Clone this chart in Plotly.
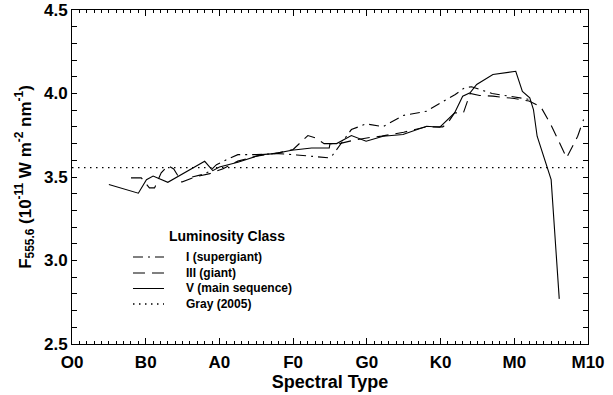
import plotly.graph_objects as go

# Spectral type axis: O0 = 0, B0 = 10, ... M0 = 60, M10 = 70 (one unit per subtype)
spectral_tick_vals = [0, 10, 20, 30, 40, 50, 60, 70]
spectral_tick_text = ["O0", "B0", "A0", "F0", "G0", "K0", "M0", "M10"]

# Luminosity class I (supergiants)
sg_type = [16.3, 17.7, 18.7, 19.6, 21.5, 22.5, 25.0, 28.0, 30.5, 33.0, 34.8,
           35.3, 37.9, 39.9, 42.2, 44.9, 48.1, 50.0, 52.0, 53.3, 54.2, 57.0,
           60.0, 62.0]
sg_flux = [3.500, 3.515, 3.534, 3.574, 3.615, 3.634, 3.634, 3.640, 3.632,
           3.624, 3.615, 3.628, 3.784, 3.818, 3.802, 3.868, 3.894, 3.944,
           3.994, 4.036, 4.040, 4.000, 3.980, 3.965]

# Luminosity class III (giants)
giant_type = [8.0, 9.4, 10.5, 11.2, 12.1, 13.0, 13.8, 14.9, 16.4, 17.1, 18.7,
              20.5, 22.5, 25.0, 28.0, 30.0, 32.0, 33.0, 34.2, 36.3, 38.0,
              40.0, 42.0, 45.0, 48.0, 50.3, 51.0, 51.9, 53.1, 54.0, 55.3,
              57.1, 60.0, 62.0, 63.6, 65.0, 67.1, 68.6, 69.4]
giant_flux = [3.495, 3.495, 3.435, 3.435, 3.525, 3.568, 3.548, 3.470, 3.495,
              3.505, 3.520, 3.550, 3.595, 3.625, 3.645, 3.665, 3.748, 3.734,
              3.700, 3.700, 3.718, 3.734, 3.745, 3.768, 3.800, 3.800, 3.825,
              3.884, 3.884, 4.000, 3.988, 3.984, 3.970, 3.955, 3.920, 3.810,
              3.615, 3.744, 3.844]

# Luminosity class V (main sequence)
ms_type = [5.0, 9.0, 10.1, 11.0, 13.0, 18.0, 19.1, 20.0, 22.5, 25.7, 27.5,
           29.8, 32.5, 34.9, 35.0, 35.9, 37.9, 39.9, 42.2, 44.9, 48.1, 49.9,
           51.9, 53.0, 54.0, 54.9, 57.1, 60.2, 61.1, 62.1, 62.6, 63.1, 65.0,
           66.1]
ms_flux = [3.455, 3.403, 3.484, 3.506, 3.468, 3.594, 3.538, 3.560, 3.588,
           3.634, 3.640, 3.660, 3.674, 3.674, 3.700, 3.700, 3.748, 3.714,
           3.744, 3.754, 3.804, 3.798, 3.884, 3.984, 4.004, 4.054, 4.114,
           4.133, 4.013, 3.974, 3.904, 3.744, 3.484, 2.770]

# Gray (2005) reference value
gray_type = [0, 70]
gray_flux = [3.556, 3.556]

series_names = ["I (supergiant)", "III (giant)", "V (main sequence)",
                "Gray (2005)"]
series_x = [sg_type, giant_type, ms_type, gray_type]
series_y = [sg_flux, giant_flux, ms_flux, gray_flux]
series_dash = ["10px,5px,2px,5px", "12px,7px", "solid", "1.5px,4.5px"]
series_width = [1.1, 1.1, 1.1, 1.3]

font_family = "Liberation Sans, Arial, Helvetica, sans-serif"

fig = go.Figure()
for name, xs, ys, dash, w in zip(series_names, series_x, series_y,
                                 series_dash, series_width):
    fig.add_trace(go.Scatter(
        x=xs, y=ys, mode="lines", name=name, showlegend=False,
        line=dict(color="black", width=w, dash=dash)))

axis_common = dict(
    showline=True, linecolor="black", linewidth=1, mirror="ticks",
    showgrid=False, zeroline=False, ticks="inside", tickcolor="black",
    tickwidth=1, automargin=False,
    tickfont=dict(family=font_family, size=17, color="black", weight="bold"),
)

fig.update_xaxes(
    range=[0, 70], tickmode="array", tickvals=spectral_tick_vals,
    ticktext=spectral_tick_text, ticklen=6, ticklabelstandoff=3,
    minor=dict(ticks="inside", dtick=1, tick0=0, ticklen=3,
               tickcolor="black", tickwidth=1),
    title=dict(text="Spectral Type", standoff=2,
               font=dict(family=font_family, size=18, color="black",
                         weight="bold")),
    **axis_common)

fig.update_yaxes(
    range=[2.5, 4.5], dtick=0.5, tick0=2.5, tickformat=".1f", ticklen=5,
    minor=dict(ticks="inside", dtick=0.1, ticklen=5, tickcolor="black",
               tickwidth=1),
    title=dict(text="F<sub>555.6</sub> (10<sup>-11</sup> W m<sup>-2</sup> "
                    "nm<sup>-1</sup>)",
               standoff=8,
               font=dict(family=font_family, size=17, color="black",
                         weight="bold")),
    **axis_common)

# Legend block: heading, then one line sample + label per series
legend_title_pos = (0.3008, 0.3234)
legend_rows_y = [0.2605, 0.2126, 0.1662, 0.1198]
legend_sample_x = (0.1182, 0.1783)
legend_text_x = 0.2171

fig.add_annotation(
    text="Luminosity Class", xref="paper", yref="paper",
    x=legend_title_pos[0], y=legend_title_pos[1], xanchor="center",
    yanchor="middle", showarrow=False,
    font=dict(family=font_family, size=14, color="black", weight="bold"))

for name, dash, w, ry in zip(series_names, series_dash, series_width,
                             legend_rows_y):
    fig.add_shape(
        type="line", xref="paper", yref="paper",
        x0=legend_sample_x[0], x1=legend_sample_x[1], y0=ry, y1=ry,
        line=dict(color="black", width=w, dash=dash))
    fig.add_annotation(
        text=name, xref="paper", yref="paper", x=legend_text_x, y=ry,
        xanchor="left", yanchor="middle", showarrow=False,
        font=dict(family=font_family, size=12, color="black",
                  weight="bold"))

fig.update_layout(
    width=613, height=395,
    margin=dict(l=72, r=25, t=10, b=51),
    paper_bgcolor="white", plot_bgcolor="white",
    showlegend=False,
)

fig.write_html("out.html")
